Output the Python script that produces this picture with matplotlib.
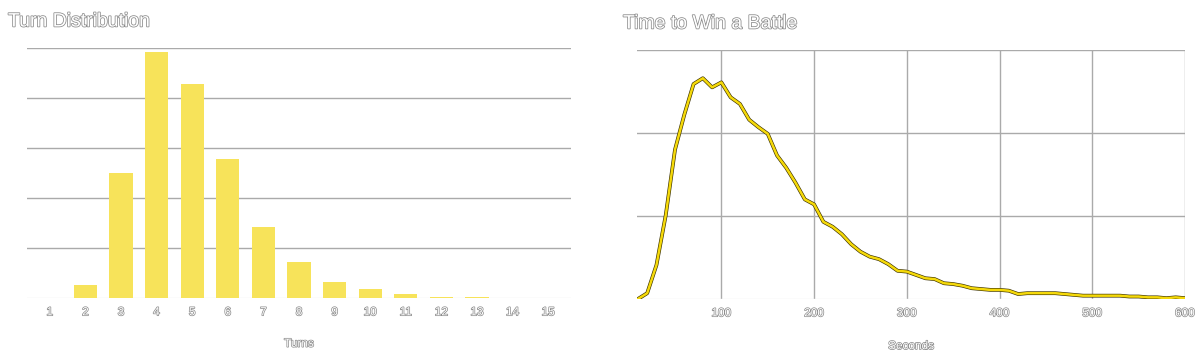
import matplotlib
matplotlib.use("Agg")
import matplotlib.pyplot as plt
import matplotlib.patheffects as pe

plt.rcParams["font.family"] = ["Liberation Sans", "DejaVu Sans"]

# left: turn distribution (units = gridline steps)
turns = list(range(1, 16))
turn_counts = [0, 0.26, 2.5, 4.92, 4.28, 2.78, 1.42, 0.72, 0.32, 0.18, 0.08, 0.03, 0.015, 0, 0]

# right: time to win a battle
seconds = list(range(10, 610, 10))
win_density = [0, 0.07, 0.41, 1.01, 1.80, 2.22, 2.59, 2.66, 2.55, 2.61,
               2.43, 2.35, 2.16, 2.07, 1.99, 1.73, 1.58, 1.40, 1.20, 1.14,
               0.93, 0.87, 0.78, 0.66, 0.57, 0.51, 0.48, 0.42, 0.34, 0.33,
               0.29, 0.25, 0.24, 0.19, 0.18, 0.16, 0.13, 0.12, 0.11, 0.11,
               0.10, 0.06, 0.07, 0.07, 0.07, 0.07, 0.06, 0.05, 0.04, 0.04,
               0.04, 0.04, 0.04, 0.03, 0.03, 0.02, 0.02, 0.01, 0.02, 0.01]
sec_ticks = [100, 200, 300, 400, 500, 600]

YELLOW = "#f7e35a"
GRID = "#aaaaaa"
TXT = "#666666"
outline = [pe.withStroke(linewidth=1.1, foreground="#8a8a8a")]

fig = plt.figure(figsize=(12, 3.58), dpi=100)
W, H = 1200, 358


def box(x0, y0, x1, y1):
    return [x0 / W, 1 - y1 / H, (x1 - x0) / W, (y1 - y0) / H]


def style(ax):
    for s in ax.spines.values():
        s.set_visible(False)
    ax.tick_params(length=0, colors=TXT, labelsize=8.5, pad=6)
    ax.set_yticklabels([])
    ax.axhline(0, color="#eeeeee", lw=1, zorder=1)


ax1 = fig.add_axes(box(27, 48, 571, 298))
ax1.bar(turns, turn_counts, width=0.65, color=YELLOW, zorder=3)
ax1.set_xlim(0.36, 15.64)
ax1.set_ylim(0, 5)
ax1.set_yticks(range(1, 6))
ax1.grid(axis="y", color=GRID, lw=1)
ax1.set_axisbelow(True)
ax1.set_xticks(turns)
ax1.set_xticklabels([str(t) for t in turns])
style(ax1)
ax1.set_xlabel("Turns", color=TXT, fontsize=8.5, labelpad=14)

ax2 = fig.add_axes(box(637, 50, 1185, 299))
ax2.plot(seconds, win_density, color="#f5d90a", lw=1.8, zorder=3,
         path_effects=[pe.withStroke(linewidth=2.7, foreground="#3a3000")])
ax2.set_xlim(9, 600)
ax2.set_ylim(0, 3)
ax2.set_yticks(range(1, 4))
ax2.set_xticks(sec_ticks)
ax2.set_xticklabels([str(s) for s in sec_ticks])
ax2.grid(True, color=GRID, lw=1)
ax2.set_axisbelow(True)
style(ax2)
ax2.set_xlabel("Seconds", color=TXT, fontsize=8.5, labelpad=15)

for ax in (ax1, ax2):
    for lab in ax.get_xticklabels() + [ax.xaxis.label]:
        lab.set_color("white")
        lab.set_path_effects([pe.withStroke(linewidth=1.0, foreground="#8a8a8a")])

fig.text(8 / W, 1 - 22 / H, "Turn Distribution", fontsize=14, color="white",
         va="center", ha="left", path_effects=outline)
fig.text(623 / W, 1 - 24 / H, "Time to Win a Battle", fontsize=14, color="white",
         va="center", ha="left", path_effects=outline)

fig.savefig("out.png", dpi=100, facecolor="white")
